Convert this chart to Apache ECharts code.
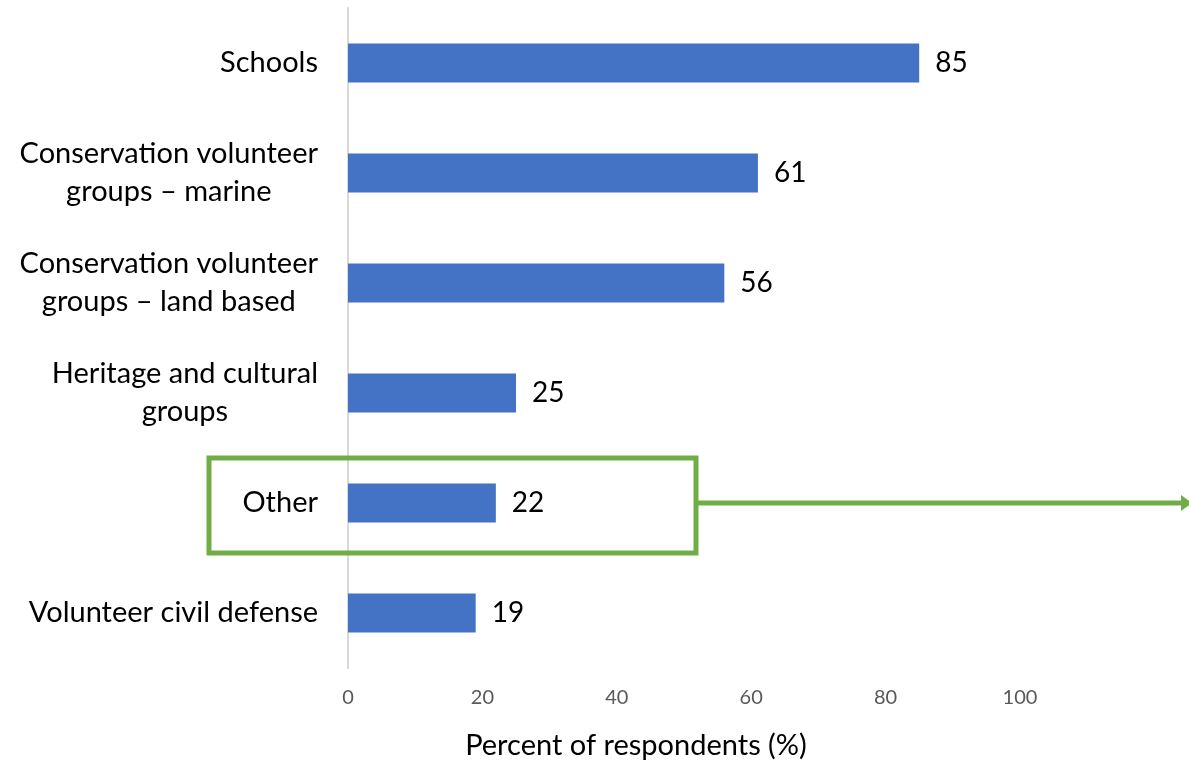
<!DOCTYPE html>
<html>
<head>
<meta charset="utf-8">
<script src="https://cdn.jsdelivr.net/npm/echarts@6/dist/echarts.min.js"></script>
<style>
  html, body { margin: 0; padding: 0; background: #fff; }
  #chart { width: 1189px; height: 763px; }
</style>
</head>
<body>
<div id="chart"></div>
<script>
// Categories listed bottom-to-top (category axis on y runs upward)
const categories = [
  'Volunteer civil defense',
  'Other',
  'Heritage and cultural\ngroups',
  'Conservation volunteer\ngroups \u2013 land based',
  'Conservation volunteer\ngroups \u2013 marine',
  'Schools'
];
const values = [19, 22, 25, 56, 61, 85];
const xTicks = [0, 20, 40, 60, 80, 100];
const xAxisTitle = 'Percent of respondents (%)';

const FONT = 'Lato, "Open Sans", sans-serif';
const GREEN = '#70AD47';

const chart = echarts.init(document.getElementById('chart'), null, { renderer: 'canvas' });

chart.setOption({
  animation: false,
  backgroundColor: '#ffffff',
  grid: { left: 348, top: 8, width: 672, height: 660, containLabel: false },
  xAxis: {
    type: 'value',
    min: xTicks[0],
    max: xTicks[xTicks.length - 1],
    interval: xTicks[1] - xTicks[0],
    axisLine: { show: false },
    axisTick: { show: false },
    splitLine: { show: false },
    axisLabel: { color: '#595959', fontSize: 20, fontFamily: FONT, margin: 20 }
  },
  yAxis: {
    type: 'category',
    data: categories,
    axisLine: { show: true, lineStyle: { color: '#d9d9d9', width: 2 } },
    axisTick: { show: false },
    axisLabel: {
      color: '#000', fontSize: 29, fontFamily: FONT, margin: 30, lineHeight: 38, align: 'right',
      // each line centred within the right-aligned block
      formatter: v => v.split('\n').map(l => '{c|' + l + '}').join('\n'),
      rich: { c: { align: 'center', color: '#000', fontSize: 29, fontFamily: FONT, lineHeight: 38 } }
    }
  },
  series: [{
    type: 'bar',
    data: values,
    barWidth: 39,
    itemStyle: { color: '#4472C4' },
    label: { show: true, position: 'right', distance: 16, color: '#000', fontSize: 28, fontFamily: FONT }
  }],
  graphic: [
    {
      type: 'text',
      x: 636, y: 746,
      style: { text: xAxisTitle, fill: '#000', fontSize: 29, fontFamily: FONT, align: 'center', verticalAlign: 'middle' }
    },
    {
      type: 'rect',
      shape: { x: 209, y: 458, width: 487, height: 95 },
      style: { fill: 'none', stroke: GREEN, lineWidth: 5 },
      z: 100
    },
    {
      type: 'line',
      shape: { x1: 698, y1: 503, x2: 1182, y2: 503 },
      style: { stroke: GREEN, lineWidth: 5 },
      z: 100
    },
    {
      type: 'polygon',
      shape: { points: [[1181, 495], [1192, 503], [1181, 511]] },
      style: { fill: GREEN },
      z: 100
    }
  ]
});
</script>
</body>
</html>
